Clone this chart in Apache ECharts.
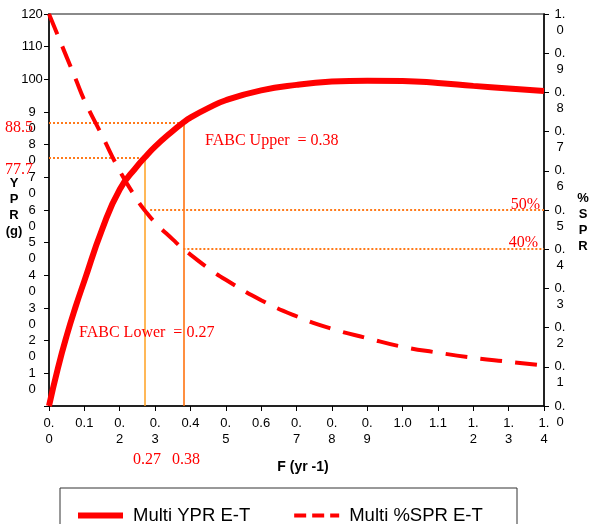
<!DOCTYPE html>
<html><head><meta charset="utf-8">
<script src="https://cdn.jsdelivr.net/npm/echarts@6/dist/echarts.min.js"></script>
<style>html,body{margin:0;padding:0;background:#fff}#c{width:602px;height:524px}</style>
</head><body><div id="c"></div>
<script>
// Fishing mortality grid (F, yr^-1)
const fValues   = [0, 0.025, 0.05, 0.075, 0.1, 0.15, 0.2, 0.25, 0.27, 0.3, 0.35, 0.38, 0.4, 0.45, 0.5, 0.6, 0.7, 0.8, 0.9, 1.0, 1.1, 1.2, 1.3, 1.4];
// Yield per recruit (g)
const yprValues = [0, 11.5, 21.5, 30.3, 38.3, 54, 66.3, 73.5, 76.0, 79.4, 84.2, 86.8, 88.3, 91.2, 93.6, 96.6, 98.3, 99.3, 99.6, 99.5, 98.9, 98.0, 97.2, 96.4];
// Spawning per recruit fraction
const sprValues = [1.0, 0.945, 0.89, 0.835, 0.78, 0.69, 0.6, 0.525, 0.5, 0.468, 0.425, 0.4, 0.386, 0.352, 0.322, 0.27, 0.229, 0.197, 0.173, 0.151, 0.136, 0.123, 0.113, 0.103];

const xTickLabels = ['0.\n0','0.1','0.\n2','0.\n3','0.4','0.\n5','0.6','0.\n7','0.\n8','0.\n9','1.0','1.1','1.\n2','1.\n3','1.\n4'];
const leftTickLabels = ['', '1\n0', '2\n0', '3\n0', '4\n0', '5\n0', '6\n0', '7\n0', '8\n0', '9\n0', '100', '110', '120'];
const rightTickLabels = ['0.\n0','0.\n1','0.\n2','0.\n3','0.\n4','0.\n5','0.\n6','0.\n7','0.\n8','0.\n9','1.\n0'];

const fabcLower = 0.27, fabcUpper = 0.38;
const yprAtLower = 76.0, yprAtUpper = 86.8;
const spr50 = 0.5, spr40 = 0.4, spr50Start = 0.286;
const seriesNames = ['Multi YPR E-T', 'Multi %SPR E-T'];

const RED = '#ff0000';
const serif = 'Liberation Serif';
const sans = 'Liberation Sans';

const chart = echarts.init(document.getElementById('c'), null, {renderer: 'canvas'});

function redText(text, x, y, align) {
  return {type: 'text', x: x, y: y, style: {text: text, fill: RED, font: '16px "' + serif + '"', textAlign: align || 'left', textVerticalAlign: 'middle'}, z: 20};
}
function linePart(s, k) { const p = (s || '').split('\n'); return p[k] || ''; }

const axisLineStyle = {show: true, onZero: false, lineStyle: {color: '#000', width: 1.5}};
const labelBase = {showMinLabel: true, showMaxLabel: true, hideOverlap: false, fontFamily: sans, fontSize: 13, align: 'center', color: '#000'};

function yAx(opts, main, labelFmt, extraLabel) {
  return Object.assign({
    type: 'value', splitLine: {show: false},
    axisLine: main ? axisLineStyle : {show: false},
    axisTick: main ? {show: true, length: 5, lineStyle: {color: '#000'}} : {show: false},
    axisLabel: Object.assign({}, labelBase, {formatter: labelFmt}, extraLabel)
  }, opts);
}

const option = {
  animation: false,
  backgroundColor: '#fff',
  grid: {left: 49, right: 58, top: 14, bottom: 118, containLabel: false, outerBoundsMode: 'none',
         show: true, borderColor: '#8a8a8a', borderWidth: 2, backgroundColor: 'transparent'},
  legend: {
    left: 75, top: 506, padding: 0, itemWidth: 45, itemHeight: 14, itemGap: 42,
    itemStyle: {opacity: 0},
    textStyle: {fontFamily: sans, fontSize: 18.5, color: '#000', padding: [0, 0, 0, 5]},
    data: [
      {name: seriesNames[0], lineStyle: {width: 6, color: RED, type: 'solid'}},
      {name: seriesNames[1], lineStyle: {width: 4, color: RED, type: [12, 6]}}
    ]
  },
  xAxis: {
    type: 'value', min: 0, max: 1.4, interval: 0.1,
    axisLine: axisLineStyle,
    axisTick: {show: true, length: 5, lineStyle: {color: '#000'}},
    splitLine: {show: false},
    axisLabel: {
      formatter: v => xTickLabels[Math.round(v * 10)] || '',
      showMinLabel: true, showMaxLabel: true, hideOverlap: false,
      fontFamily: sans, fontSize: 13, lineHeight: 16, margin: 9, color: '#000'
    }
  },
  yAxis: [
    yAx({min: 0, max: 120, interval: 10, position: 'left'}, true,
        v => linePart(leftTickLabels[Math.round(v / 10)], 0), {verticalAlign: 'middle', lineHeight: 16, margin: 17}),
    yAx({min: 0, max: 1, interval: 0.1, position: 'right'}, true,
        v => linePart(rightTickLabels[Math.round(v * 10)], 0), {verticalAlign: 'middle', lineHeight: 16, margin: 16}),
    yAx({min: 0, max: 120, interval: 10, position: 'left'}, false,
        v => linePart(leftTickLabels[Math.round(v / 10)], 1), {verticalAlign: 'top', lineHeight: 32, margin: 17}),
    yAx({min: 0, max: 1, interval: 0.1, position: 'right'}, false,
        v => linePart(rightTickLabels[Math.round(v * 10)], 1), {verticalAlign: 'top', lineHeight: 32, margin: 16})
  ],
  series: [
    {
      name: seriesNames[0], type: 'line', yAxisIndex: 0, smooth: 0.5,
      symbol: 'none', showSymbol: false, z: 5,
      lineStyle: {color: RED, width: 6}, itemStyle: {color: RED},
      data: fValues.map((f, i) => [f, yprValues[i]]),
      markLine: {
        silent: true, symbol: ['none', 'none'], label: {show: false}, z: 3,
        data: [
          [{coord: [0, yprAtUpper], lineStyle: {color: '#ff7a1a', type: 'dotted', width: 2}}, {coord: [fabcUpper, yprAtUpper]}],
          [{coord: [0, yprAtLower], lineStyle: {color: '#ff7a1a', type: 'dotted', width: 2}}, {coord: [fabcLower, yprAtLower]}],
          [{coord: [fabcLower, 0], lineStyle: {color: '#ffa020', type: 'solid', width: 1.5}}, {coord: [fabcLower, yprAtLower]}],
          [{coord: [fabcUpper, 0], lineStyle: {color: '#ff6a00', type: 'solid', width: 1.5}}, {coord: [fabcUpper, yprAtUpper]}]
        ]
      }
    },
    {
      name: seriesNames[1], type: 'line', yAxisIndex: 1, smooth: 0.5,
      symbol: 'none', showSymbol: false, z: 4,
      lineStyle: {color: RED, width: 4, type: [22, 13]}, itemStyle: {color: RED},
      data: fValues.map((f, i) => [f, sprValues[i]]),
      markLine: {
        silent: true, symbol: ['none', 'none'], label: {show: false}, z: 3,
        data: [
          [{coord: [spr50Start, spr50], lineStyle: {color: '#ff7a1a', type: 'dotted', width: 2}}, {coord: [1.4, spr50]}],
          [{coord: [fabcUpper, spr40], lineStyle: {color: '#ff7a1a', type: 'dotted', width: 2}}, {coord: [1.4, spr40]}]
        ]
      }
    }
  ],
  graphic: [
    {type: 'rect', shape: {x: 60, y: 488, width: 457, height: 60}, style: {fill: 'none', stroke: '#333', lineWidth: 1}, z: 1},
    {type: 'text', x: 14, y: 207, style: {text: 'Y\nP\nR\n(g)', font: 'bold 13px "' + sans + '"', lineHeight: 16, fill: '#000', textAlign: 'center', textVerticalAlign: 'middle'}},
    {type: 'text', x: 583, y: 222, style: {text: '%\nS\nP\nR', font: 'bold 13px "' + sans + '"', lineHeight: 16, fill: '#000', textAlign: 'center', textVerticalAlign: 'middle'}},
    {type: 'text', x: 303, y: 467, style: {text: 'F (yr -1)', font: 'bold 14px "' + sans + '"', fill: '#000', textAlign: 'center', textVerticalAlign: 'middle'}},
    redText('88.5', 5, 128),
    redText('77.7', 5, 170),
    redText('50%', 540, 205, 'right'),
    redText('40%', 538, 243, 'right'),
    redText('FABC Upper  = 0.38', 205, 141),
    redText('FABC Lower  = 0.27', 79, 333),
    redText('0.27', 133, 460),
    redText('0.38', 172, 460)
  ]
};
chart.setOption(option);
</script>
</body></html>
